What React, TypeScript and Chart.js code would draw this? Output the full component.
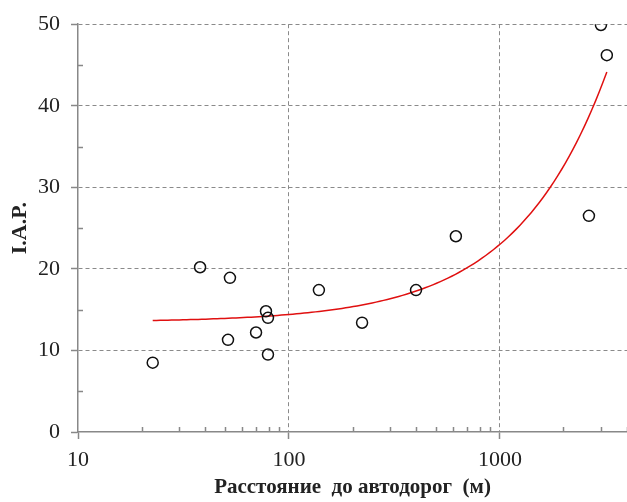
import React, { useEffect, useRef } from "react";
import { Chart, registerables } from "chart.js";

Chart.register(...registerables);

// Distance to roads (m) and I.A.P. values
const distances = [22.6, 37.9, 51.4, 52.5, 69.8, 77.8, 79.5, 79.5, 138.6, 222, 400, 618, 2640, 3010, 3210];
const iapValues = [8.5, 20.2, 11.3, 18.9, 12.2, 14.8, 14.0, 9.5, 17.4, 13.4, 17.4, 24.0, 26.5, 49.9, 46.2];

const xTickValues = [10, 100, 1000];
const yTickValues = [0, 10, 20, 30, 40, 50];
const xMinorTicks = [20, 30, 40, 50, 60, 70, 80, 90, 200, 300, 400, 500, 600, 700, 800, 900, 2000, 3000, 4000];
const yMinorTicks = [5, 15, 25, 35, 45];

const xTitle = "Расстояние  до автодорог  (м)";
const yTitle = "I.A.P.";

// Linear least-squares trend line (as in the original spreadsheet trendline)
function linearFit(xs: number[], ys: number[]) {
  const n = xs.length;
  const mx = xs.reduce((a, b) => a + b, 0) / n;
  const my = ys.reduce((a, b) => a + b, 0) / n;
  let sxy = 0, sxx = 0;
  for (let i = 0; i < n; i++) {
    sxy += (xs[i] - mx) * (ys[i] - my);
    sxx += (xs[i] - mx) * (xs[i] - mx);
  }
  const b = sxy / sxx;
  return { a: my - b * mx, b };
}

export default function App() {
  const ref = useRef<HTMLCanvasElement | null>(null);

  useEffect(() => {
    document.body.style.margin = "0";
    const canvas = ref.current;
    if (!canvas) return;

    const fit = linearFit(distances, iapValues);
    const lo = Math.log10(Math.min(...distances));
    const hi = Math.log10(Math.max(...distances));
    const trend: { x: number; y: number }[] = [];
    const steps = 120;
    for (let i = 0; i <= steps; i++) {
      const x = Math.pow(10, lo + ((hi - lo) * i) / steps);
      trend.push({ x, y: fit.a + fit.b * x });
    }

    const minorTicks = {
      id: "minorTicks",
      afterDatasetsDraw(chart: any) {
        const { ctx, scales } = chart;
        const xs = scales.x;
        const ys = scales.y;
        ctx.save();
        ctx.strokeStyle = "#888";
        ctx.lineWidth = 1.5;
        ctx.beginPath();
        xMinorTicks.forEach((v) => {
          const px = Math.round(xs.getPixelForValue(v)) + 0.5;
          ctx.moveTo(px, ys.bottom);
          ctx.lineTo(px, ys.bottom - 5);
        });
        yMinorTicks.forEach((v) => {
          const py = Math.round(ys.getPixelForValue(v)) + 0.5;
          ctx.moveTo(xs.left, py);
          ctx.lineTo(xs.left + 5, py);
        });
        ctx.stroke();
        ctx.restore();
      },
    };

    const tickFont = { family: "'Liberation Serif', 'Times New Roman', serif", size: 22 };
    const titleFont = { family: "'Liberation Serif', 'Times New Roman', serif", size: 21, weight: "bold" as const };

    const chart = new Chart(canvas, {
      type: "scatter",
      data: {
        datasets: [
          {
            type: "line",
            data: trend,
            borderColor: "#e01010",
            borderWidth: 1.5,
            pointRadius: 0,
            fill: false,
            tension: 0,
            order: 2,
          } as any,
          {
            data: distances.map((x, i) => ({ x, y: iapValues[i] })),
            pointRadius: 5.5,
            pointBorderWidth: 1.5,
            pointBorderColor: "#111",
            pointBackgroundColor: "rgba(255,255,255,0)",
            order: 1,
          },
        ],
      },
      options: {
        animation: false,
        responsive: false,
        maintainAspectRatio: false,
        layout: { autoPadding: false, padding: { top: 22, right: 0, left: 0, bottom: 0 } },
        plugins: { legend: { display: false }, tooltip: { enabled: false } },
        scales: {
          x: {
            type: "logarithmic",
            min: 10,
            max: 4000,
            afterBuildTicks: (scale: any) => {
              scale.ticks = xTickValues.map((v) => ({ value: v }));
            },
            afterFit: (scale: any) => {
              scale.height = 70;
            },
            ticks: {
              autoSkip: false,
              maxRotation: 0,
              font: tickFont,
              color: "#222",
              padding: 8,
              callback: (v: any) => String(v),
            },
            grid: {
              color: (ctx: any) => (ctx.tick && ctx.tick.value === 10 ? "rgba(0,0,0,0)" : "#8a8a8a"),
              lineWidth: 1,
              tickLength: 7,
              tickColor: "#888",
              tickWidth: 1.5,
            },
            border: { display: true, color: "#888", width: 1.5, dash: [4, 3] },
            title: { display: true, text: xTitle, font: titleFont, color: "#222", padding: { top: 0, bottom: 1.5 } },
          },
          y: {
            min: 0,
            max: 50,
            afterBuildTicks: (scale: any) => {
              scale.ticks = yTickValues.map((v) => ({ value: v }));
            },
            afterFit: (scale: any) => {
              scale.width = 78;
            },
            ticks: { font: tickFont, color: "#222", padding: 11 },
            grid: {
              color: (ctx: any) => (ctx.tick && ctx.tick.value === 0 ? "rgba(0,0,0,0)" : "#8a8a8a"),
              lineWidth: 1,
              tickLength: 7,
              tickColor: "#888",
              tickWidth: 1.5,
            },
            border: { display: true, color: "#888", width: 1.5, dash: [4, 3] },
            title: { display: true, text: yTitle, font: { ...titleFont, size: 22 }, color: "#222", padding: { top: 7, bottom: 0 } },
          },
        },
      } as any,
      plugins: [minorTicks],
    });

    return () => chart.destroy();
  }, []);

  return (
    <div style={{ width: 627, height: 502 }}>
      <canvas ref={ref} width={627} height={502} style={{ display: "block" }} />
    </div>
  );
}
